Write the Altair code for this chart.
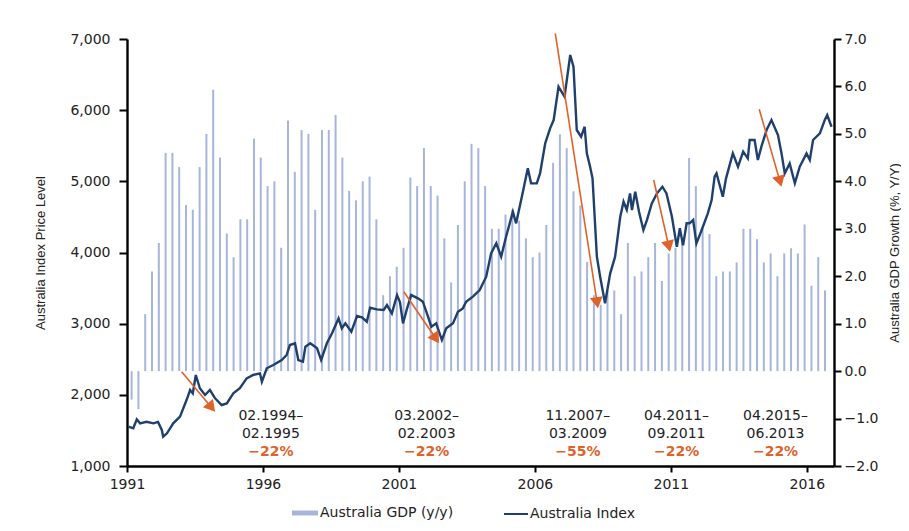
import math
import altair as alt
import pandas as pd

# ---------------- data ----------------
# Quarterly Australia GDP growth (y/y, %), 1991Q1 .. 2016Q3
gdp_first_quarter = 1991.17
gdp_values = [
    -0.6, -0.8, 1.2, 2.1, 2.7, 4.6, 4.6, 4.3, 3.5, 3.4,
    4.3, 5.0, 5.93, 4.5, 2.9, 2.4, 3.2, 3.2, 4.9, 4.5,
    3.9, 4.0, 2.6, 5.28, 4.2, 5.08, 5.0, 3.4, 5.08, 5.08,
    5.4, 4.5, 3.8, 3.6, 4.0, 4.1, 3.2, 1.6, 2.0, 2.2,
    2.6, 4.08, 3.9, 4.7, 3.9, 3.7, 2.8, 1.87, 3.08, 4.0,
    4.79, 4.7, 3.9, 3.0, 3.0, 3.3, 3.4, 3.17, 2.8, 2.4,
    2.5, 3.08, 4.39, 4.99, 4.7, 3.79, 3.49, 2.3, 1.6, 1.4,
    1.7, 1.7, 1.2, 2.7, 2.0, 2.1, 2.4, 2.7, 1.9, 2.48,
    2.6, 2.8, 4.49, 3.9, 3.0, 2.89, 2.0, 2.1, 2.1, 2.29,
    3.0, 3.0, 2.78, 2.29, 2.48, 2.0, 2.48, 2.59, 2.48, 3.09,
    1.8, 2.4, 1.7,
]
gdp_years = [round(gdp_first_quarter + 0.25 * i, 3) for i in range(len(gdp_values))]

# Australia Index price level
idx_years = [
    1991.05, 1991.23, 1991.36, 1991.48, 1991.72, 1991.97, 1992.14, 1992.28, 1992.33, 1992.47,
    1992.70, 1992.95, 1993.19, 1993.32, 1993.42, 1993.53, 1993.68, 1993.87, 1994.05, 1994.24,
    1994.48, 1994.67, 1994.91, 1995.15, 1995.40, 1995.64, 1995.89, 1995.96, 1996.14, 1996.38,
    1996.69, 1996.87, 1996.99, 1997.18, 1997.30, 1997.47, 1997.56, 1997.74, 1997.99, 1998.14,
    1998.35, 1998.54, 1998.78, 1998.90, 1999.03, 1999.25, 1999.46, 1999.64, 1999.82, 1999.94,
    2000.19, 2000.44, 2000.56, 2000.74, 2000.93, 2001.04, 2001.15, 2001.29, 2001.45, 2001.70,
    2001.88, 2002.07, 2002.19, 2002.37, 2002.58, 2002.74, 2002.99, 2003.17, 2003.35, 2003.47,
    2003.72, 2003.97, 2004.21, 2004.39, 2004.58, 2004.76, 2004.94, 2005.19, 2005.31, 2005.56,
    2005.74, 2005.86, 2006.07, 2006.19, 2006.38, 2006.56, 2006.69, 2006.87, 2007.09, 2007.30,
    2007.42, 2007.54, 2007.70, 2007.83, 2007.91, 2008.03, 2008.12, 2008.28, 2008.40, 2008.58,
    2008.77, 2008.95, 2009.14, 2009.26, 2009.38, 2009.50, 2009.57, 2009.69, 2009.83, 2009.99,
    2010.12, 2010.30, 2010.49, 2010.69, 2010.84, 2011.04, 2011.22, 2011.33, 2011.45, 2011.58,
    2011.69, 2011.82, 2011.94, 2012.11, 2012.36, 2012.50, 2012.61, 2012.68, 2012.91, 2013.03,
    2013.28, 2013.47, 2013.66, 2013.83, 2013.90, 2014.08, 2014.20, 2014.33, 2014.52, 2014.70,
    2014.94, 2015.07, 2015.19, 2015.37, 2015.56, 2015.74, 2015.99, 2016.11, 2016.23, 2016.48,
    2016.66, 2016.75, 2016.91,
]
idx_values = [
    1552, 1530, 1656, 1600, 1622, 1600, 1620, 1506, 1412, 1459,
    1600, 1693, 1927, 2068, 2020, 2279, 2092, 1998, 2068, 1951,
    1857, 1880, 2021, 2092, 2232, 2279, 2302, 2185, 2373, 2419,
    2489, 2560, 2700, 2724, 2489, 2466, 2676, 2724, 2653, 2489,
    2724, 2864, 3075, 2935, 3005, 2887, 3108, 3090, 3028, 3224,
    3200, 3192, 3262, 3145, 3402, 3300, 3005, 3200, 3402, 3356,
    3309, 3098, 2957, 3005, 2770, 2935, 3005, 3168, 3215, 3309,
    3379, 3473, 3660, 3988, 4129, 3941, 4222, 4573, 4410, 4854,
    5183, 4972, 4972, 5112, 5534, 5745, 5861, 6329, 6189, 6775,
    6611, 5721, 5627, 5767, 5393, 5205, 5042, 3941, 3660, 3286,
    3707, 3941, 4503, 4714, 4600, 4831, 4597, 4854, 4573, 4316,
    4456, 4691, 4831, 4924, 4831, 4503, 4081, 4340, 4100, 4410,
    4410, 4456, 4129, 4292, 4550, 4737, 5065, 5112, 4784, 5042,
    5393, 5205, 5417, 5323, 5581, 5581, 5299, 5487, 5721, 5861,
    5651, 5393, 5112, 5252, 4972, 5205, 5393, 5300, 5581, 5674,
    5861, 5932, 5767,
]

# Draw-down annotations (start / end of arrows, in year & index level)
arrow_x0 = [1993.01, 2001.18, 2006.75, 2010.37, 2014.25]
arrow_y0 = [2325, 3449, 7079, 5018, 6012]
arrow_x1 = [1994.24, 2002.48, 2008.32, 2010.97, 2015.07]
arrow_y1 = [1763, 2724, 3216, 4011, 4924]

label_x = [1996.29, 2002.02, 2007.58, 2011.21, 2014.85]
label_line1 = ["02.1994\u2013", "03.2002\u2013", "11.2007\u2013", "04.2011\u2013", "04.2015\u2013"]
label_line2 = ["02.1995", "02.2003", "03.2009", "09.2011", "06.2013"]
label_pct = ["\u221222%", "\u221222%", "\u221255%", "\u221222%", "\u221222%"]
label_rows_y = [1702, 1450, 1197]

x_ticks = [1991, 1996, 2001, 2006, 2011, 2016]
left_ticks = [1000, 2000, 3000, 4000, 5000, 6000, 7000]
right_ticks = [-2, -1, 0, 1, 2, 3, 4, 5, 6, 7]

# ---------------- style ----------------
W, H = 707, 427
X0, X1 = 1991, 2017
YL0, YL1 = 1000, 7000
YR0, YR1 = -2, 7
BAR = "#a7b5dd"
NAVY = "#1f3f6d"
ORANGE = "#e0622a"
TXT = "#222222"
FONT = "DejaVu Sans"
TFONT = "Liberation Sans"

px_x = W / (X1 - X0)
px_y = H / (YL1 - YL0)

# ---------------- tables ----------------
gdp_df = pd.DataFrame({"year": gdp_years, "v": gdp_values, "series": "Australia GDP (y/y)"})
idx_df = pd.DataFrame({"year": idx_years, "v": idx_values, "series": "Australia Index"})

HEAD_BACK = 5.6  # px from tip to centroid of the arrow head
rows = []
for a, b, c, d in zip(arrow_x0, arrow_y0, arrow_x1, arrow_y1):
    dx = (c - a) * px_x
    dy = (b - d) * px_y
    L = math.hypot(dx, dy)
    ux, uy = dx / L, dy / L
    hx = c - HEAD_BACK * ux / px_x
    hy = d + HEAD_BACK * uy / px_y
    ang = math.degrees(math.atan2(-ux, uy)) % 360
    rows.append({"year": a, "v": b, "year2": hx, "v2": hy, "hx": hx, "hy": hy, "ang": ang})
arrow_df = pd.DataFrame(rows)

date_rows = []
for x, l1, l2 in zip(label_x, label_line1, label_line2):
    date_rows.append({"year": x, "v": label_rows_y[0], "t": l1})
    date_rows.append({"year": x, "v": label_rows_y[1], "t": l2})
date_df = pd.DataFrame(date_rows)
pct_df = pd.DataFrame({"year": label_x, "v": [label_rows_y[2]] * len(label_x), "t": label_pct})

# ---------------- encodings ----------------
x_scale = alt.Scale(domain=[X0, X1], nice=False, zero=False)
x_axis = alt.Axis(values=x_ticks, format="d", title=None, tickSize=6, labelPadding=5,
                  labelFontSize=14, labelFlush=False, grid=False)
def xenc(field="year"):
    return alt.X(f"{field}:Q", scale=x_scale, axis=x_axis)

left_scale = alt.Scale(domain=[YL0, YL1], nice=False, zero=False)
left_axis = alt.Axis(values=left_ticks, format=",.0f", orient="left", tickSize=8, labelPadding=9,
                     title="Australia Index Price Level", titleFont=TFONT, titleFontSize=13,
                     titleFontWeight="normal", titlePadding=22, titleColor=TXT, grid=False)
def yl(field="v"):
    return alt.Y(f"{field}:Q", scale=left_scale, axis=left_axis)

right_scale = alt.Scale(domain=[YR0, YR1], nice=False, zero=False)
right_axis = alt.Axis(values=right_ticks, format=".1f", orient="right", tickSize=7, labelPadding=3,
                      title="Australia GDP Growth (%, Y/Y)", titleFont=TFONT, titleFontSize=13,
                      titleFontWeight="normal", titleAngle=270, titlePadding=24, titleColor=TXT,
                      grid=False)

bars = alt.Chart(gdp_df).mark_rule(strokeWidth=2.0).encode(
    x=xenc(),
    y=alt.Y("v:Q", scale=right_scale, axis=right_axis),
    y2=alt.datum(0),
    color=alt.Color("series:N", scale=alt.Scale(domain=["Australia GDP (y/y)"], range=[BAR]),
                    legend=alt.Legend(orient="none", legendX=165, legendY=461, title=None,
                                      symbolType="M-1,-0.19H1V0.19H-1Z", symbolSize=676,
                                      symbolFillColor=BAR, symbolOpacity=1,
                                      symbolStrokeWidth=0, labelFont=FONT, labelFontSize=14,
                                      labelColor=TXT, labelOffset=2)),
)

line = alt.Chart(idx_df).mark_line(strokeWidth=2.4).encode(
    x=xenc(),
    y=yl(),
    stroke=alt.Stroke("series:N", scale=alt.Scale(domain=["Australia Index"], range=[NAVY]),
                      legend=alt.Legend(orient="none", legendX=376, legendY=462, title=None,
                                        symbolType="stroke", symbolSize=576, symbolStrokeWidth=2,
                                        labelFont=FONT, labelFontSize=14, labelColor=TXT,
                                        labelOffset=1)),
)

arrows = alt.Chart(arrow_df).mark_rule(color=ORANGE, strokeWidth=1.6).encode(
    x=xenc(), x2="year2:Q", y=yl(), y2="v2:Q",
)
heads = alt.Chart(arrow_df).mark_point(shape="triangle-down", filled=True, size=170,
                                       color=ORANGE, opacity=1).encode(
    x=xenc("hx"), y=yl("hy"), angle=alt.Angle("ang:Q", scale=None),
)
dates = alt.Chart(date_df).mark_text(font=FONT, fontSize=14, color=TXT, align="center",
                                     baseline="middle").encode(
    x=xenc(), y=yl(), text="t:N",
)
pcts = alt.Chart(pct_df).mark_text(font=FONT, fontSize=14, fontWeight="bold", color=ORANGE,
                                   align="center", baseline="middle").encode(
    x=xenc(), y=yl(), text="t:N",
)

chart = alt.layer(
    bars,
    alt.layer(line, arrows, heads, dates, pcts),
).resolve_scale(y="independent").properties(
    width=W, height=H,
    autosize=alt.AutoSizeParams(type="none"),
    padding={"left": 119, "top": 31, "right": 67, "bottom": 55},
).configure_view(stroke=None).configure_axis(
    domainColor="black", domainWidth=2.4, tickColor="black", tickWidth=2,
    labelFont=FONT, labelFontSize=14, labelColor=TXT,
)

chart.save("out.html", embed_options={"renderer": "svg", "actions": False})
